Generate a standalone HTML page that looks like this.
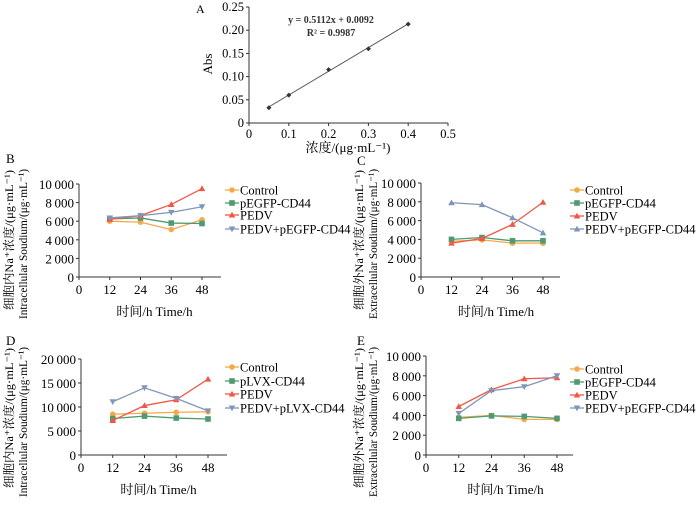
<!DOCTYPE html>
<html><head><meta charset="utf-8">
<style>
body{margin:0;background:#fff;}
svg{display:block;font-family:"Liberation Serif","Noto Serif CJK SC","Noto Sans CJK SC",serif;}
</style></head>
<body>
<svg id="fig" width="700" height="513" viewBox="0 0 700 513" xmlns="http://www.w3.org/2000/svg"></svg>
<script>
// Panel A data
const aX=[0.05,0.1,0.2,0.3,0.4];
const aY=[0.033,0.06,0.115,0.16,0.213];
const aXTicks=[0,0.1,0.2,0.3,0.4,0.5];
const aYTicks=[0,0.05,0.10,0.15,0.20,0.25];
// time categories
const times=[12,24,36,48];
const xTicks=[0,12,24,36,48];
// Panel B
const bControl=[6000,5900,5100,6150];
const bCD44=[6250,6350,5800,5750];
const bPEDV=[6200,6600,7800,9500];
const bPEDVCD44=[6350,6600,6950,7550];
// Panel C
const cControl=[3800,3950,3600,3600];
const cCD44=[4000,4200,3850,3850];
const cPEDV=[3600,4100,5600,7950];
const cPEDVCD44=[7900,7700,6300,4700];
// Panel D
const dControl=[8500,8700,8900,9000];
const dCD44=[7600,8100,7700,7500];
const dPEDV=[7200,10300,11500,15800];
const dPEDVCD44=[11100,14000,11800,9200];
// Panel E
const eControl=[3800,4000,3600,3600];
const eCD44=[3700,3950,3900,3700];
const ePEDV=[4900,6600,7700,7800];
const ePEDVCD44=[4200,6500,6900,8000];
const yTicks10k=[0,2000,4000,6000,8000,10000];
const yTicks20k=[0,5000,10000,15000,20000];
const legendEGFP=["Control","pEGFP-CD44","PEDV","PEDV+pEGFP-CD44"];
const legendLVX=["Control","pLVX-CD44","PEDV","PEDV+pLVX-CD44"];

const NS="http://www.w3.org/2000/svg";
const svg=document.getElementById('fig');
function mk(tag,attrs,parent,text){const e=document.createElementNS(NS,tag);for(const k in attrs)e.setAttribute(k,attrs[k]);if(text!==undefined)e.textContent=text;(parent||svg).appendChild(e);return e;}
const colors=["#f5a94a","#4f9a6e","#ef5847","#8096b8"];
const fmt=v=>{const s=String(v);return s.length>3?s.slice(0,-3)+"\u2009"+s.slice(-3):s;};

// Panel A
(function(){
 const g=mk('g',{});
 const x0=249,x1=448,y0=123,y1=7;
 const X=v=>x0+(v-0)/(0.5)*(x1-x0), Y=v=>y0-(v/0.25)*(y0-y1);
 mk('text',{x:196,y:13,'font-size':12},g,'A');
 mk('line',{x1:x0,y1:y0,x2:x1,y2:y0,stroke:'#333','stroke-width':1},g);
 mk('line',{x1:x0,y1:y0,x2:x0,y2:y1,stroke:'#333','stroke-width':1},g);
 aXTicks.forEach(t=>{mk('line',{x1:X(t),y1:y0,x2:X(t),y2:y0+3,stroke:'#333'},g);const tx=mk('text',{x:X(t),y:y0+15,'font-size':12.5,'text-anchor':'middle'},g,String(t));});
 aYTicks.forEach(t=>{mk('line',{x1:x0-3,y1:Y(t),x2:x0,y2:Y(t),stroke:'#333'},g);const tx=mk('text',{x:x0-5,y:Y(t)+4,'font-size':12.5,'text-anchor':'end'},g,t===0?'0':t.toFixed(2));});
 const fx=[aX[0],aX[aX.length-1]];
 mk('line',{x1:X(fx[0]),y1:Y(0.5112*fx[0]+0.0092),x2:X(fx[1]),y2:Y(0.5112*fx[1]+0.0092),stroke:'#555','stroke-width':1},g);
 aX.forEach((v,i)=>{const p=mk('path',{d:`M${X(v)} ${Y(aY[i])-2.5}l2.5 2.5l-2.5 2.5l-2.5 -2.5z`,fill:'#333'},g);});
 mk('text',{x:331,y:23,'font-size':10,'font-weight':'bold','text-anchor':'middle',fill:'#333'},g,'y = 0.5112x + 0.0092');
 mk('text',{x:331,y:36,'font-size':10,'font-weight':'bold','text-anchor':'middle',fill:'#333'},g,'R² = 0.9987');
 const yl=mk('text',{x:0,y:0,'font-size':13,'text-anchor':'middle',transform:'translate(212,64) rotate(-90)'},g,'Abs');
 const xl=mk('text',{x:348,y:152,'font-size':13,'text-anchor':'middle'},g,'浓度/(μg·mL⁻¹)');
})();

function linePanel(o){
 const g=mk('g',{});
 const X=v=>o.x0+v/48*(o.x48-o.x0), Y=v=>o.y0-v/o.ymax*(o.y0-o.ytop);
 const lab=mk('text',{x:o.lx,y:o.ly,'font-size':13},g,o.label);
 mk('line',{x1:o.x0,y1:o.y0,x2:o.xend,y2:o.y0,stroke:'#333'},g);
 mk('line',{x1:o.x0,y1:o.y0,x2:o.x0,y2:o.ytop,stroke:'#333'},g);
 xTicks.forEach(t=>{mk('line',{x1:X(t),y1:o.y0,x2:X(t),y2:o.y0+3,stroke:'#333'},g);const tx=mk('text',{x:X(t),y:o.y0+17,'font-size':13,'text-anchor':'middle'},g,String(t));});
 o.yt.forEach(t=>{mk('line',{x1:o.x0-3,y1:Y(t),x2:o.x0,y2:Y(t),stroke:'#333'},g);const tx=mk('text',{x:o.x0-5,y:Y(t)+5,'font-size':13,'text-anchor':'end'},g,fmt(t));});
 const xt=mk('text',{x:(o.x0+o.x48)/2+14,y:o.y0+39,'font-size':13,'text-anchor':'middle'},g,'时间/h  Time/h');
 const cy=o.y0-37;
 const y1=mk('text',{'font-size':12,'text-anchor':'middle',textLength:140,lengthAdjust:'spacingAndGlyphs',transform:`translate(${o.yl1},${cy}) rotate(-90)`},g,o.yt1);
 const y2=mk('text',{'font-size':12,'text-anchor':'middle',textLength:150,lengthAdjust:'spacingAndGlyphs',transform:`translate(${o.yl1+14},${cy+4}) rotate(-90)`},g,o.yt2);
 function marker(x,y,k,par){
  if(k===0)return mk('circle',{cx:x,cy:y,r:2.8,fill:colors[0]},par);
  if(k===1)return mk('rect',{x:x-2.8,y:y-2.8,width:5.6,height:5.6,fill:colors[1]},par);
  if(k===2)return mk('path',{d:`M${x} ${y-3.3}L${x+3.3} ${y+2.5}L${x-3.3} ${y+2.5}Z`,fill:colors[2]},par);
  return mk('path',{d:o.blueUp?`M${x} ${y-3.3}L${x+3.3} ${y+2.5}L${x-3.3} ${y+2.5}Z`:`M${x} ${y+3.3}L${x+3.3} ${y-2.5}L${x-3.3} ${y-2.5}Z`,fill:colors[3]},par);
 }
 const names=['series-control','series-cd44','series-pedv','series-pedv-cd44'];
 o.series.forEach((s,k)=>{
  const sg=mk('g',{},g);
  mk('polyline',{points:times.map((t,i)=>X(t)+','+Y(s[i])).join(' '),fill:'none',stroke:colors[k],'stroke-width':1.3},sg);
  times.forEach((t,i)=>{const m=marker(X(t),Y(s[i]),k,sg);});
 });
 o.legend.forEach((n,k)=>{
  const ly=o.legY[k];
  const lg=mk('g',{},g);
  mk('line',{x1:o.legX-7,y1:ly,x2:o.legX+7,y2:ly,stroke:colors[k],'stroke-width':1.3},lg);
  marker(o.legX,ly,k,lg);
  mk('text',{x:o.legX+8,y:ly+4.5,'font-size':12.5},lg,n);
 });
}
const inCN='细胞内Na⁺浓度/(μg·mL⁻¹)', inEN='Intracellular Soudium/(μg·mL⁻¹)';
const exCN='细胞外Na⁺浓度/(μg·mL⁻¹)', exEN='Extracellular Soudium/(μg·mL⁻¹)';
linePanel({name:'panel-b-chart',label:'B',lx:6,ly:163,x0:79,x48:202,xend:221,y0:277,ytop:184,ymax:10000,yt:yTicks10k,yl1:13,yt1:inCN,yt2:inEN,series:[bControl,bCD44,bPEDV,bPEDVCD44],legend:legendEGFP,legX:232,legY:[190,203,215,229],blueUp:false});
linePanel({name:'panel-c-chart',label:'C',lx:357,ly:165,x0:421,x48:543,xend:560,y0:277,ytop:183,ymax:10000,yt:yTicks10k,yl1:363,yt1:exCN,yt2:exEN,series:[cControl,cCD44,cPEDV,cPEDVCD44],legend:legendEGFP,legX:577,legY:[190,203,216,229],blueUp:true});
linePanel({name:'panel-d-chart',label:'D',lx:6,ly:345,x0:81,x48:208,xend:227,y0:455,ytop:359,ymax:20000,yt:yTicks20k,yl1:13,yt1:inCN,yt2:inEN,series:[dControl,dCD44,dPEDV,dPEDVCD44],legend:legendLVX,legX:232,legY:[367,381,394,408],blueUp:false});
linePanel({name:'panel-e-chart',label:'E',lx:357,ly:345,x0:426,x48:557,xend:573,y0:455,ytop:356,ymax:10000,yt:yTicks10k,yl1:363,yt1:exCN,yt2:exEN,series:[eControl,eCD44,ePEDV,ePEDVCD44],legend:legendEGFP,legX:577,legY:[369,382,395,408],blueUp:false});
</script>
</body></html>
